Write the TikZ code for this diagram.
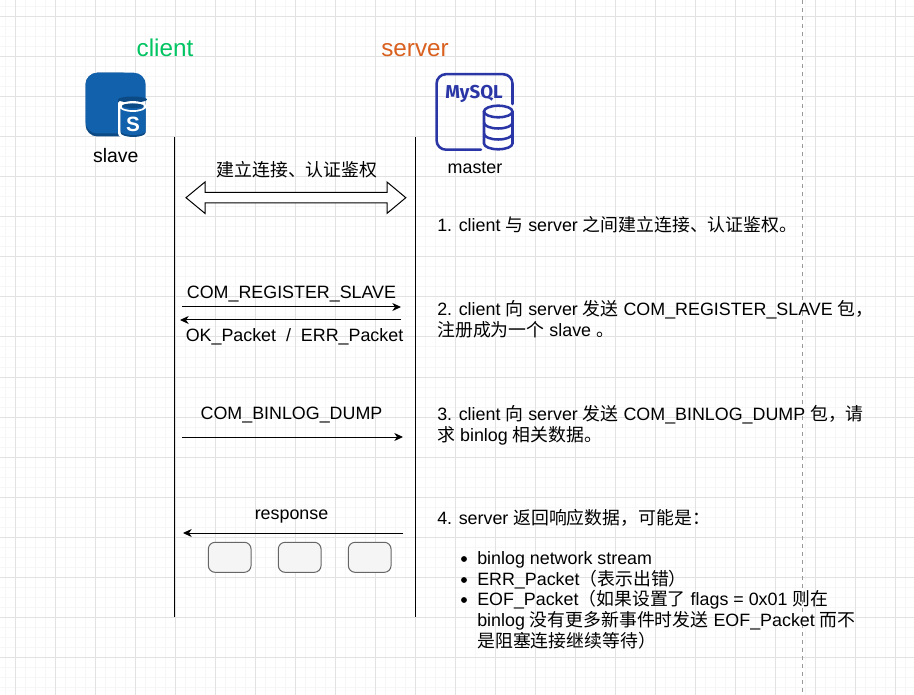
\documentclass[tikz,border=0pt]{standalone}
\usepackage{fontspec}
\setmainfont{Liberation Sans}
\newfontfamily\cjk{Noto Sans CJK SC}
\newfontfamily\iconfont{Fira Sans}
\usetikzlibrary{arrows.meta}
\newcommand{\C}[1]{{\cjk #1}}
\definecolor{gridminor}{HTML}{F6F6F6}
\definecolor{gridmajor}{HTML}{E2E2E2}
\definecolor{clientc}{HTML}{00C462}
\definecolor{serverc}{HTML}{D9601F}
\definecolor{slaveblue}{HTML}{1261AC}
\definecolor{slavedark}{HTML}{0C4A85}
\definecolor{mysqlc}{HTML}{2B36A6}
\tikzset{
  x=0.75pt,y=-0.75pt,
  lbl/.style={font=\fontsize{13.4}{16}\selectfont,inner sep=0pt,text=black},
  txt/.style={lbl,anchor=base west},
  lifeline/.style={draw=black,line width=0.75pt},
  msg/.style={draw=black,line width=0.75pt,-{Stealth[length=6.5pt,width=6pt,inset=2pt]}},
  pkt/.style={draw=black!60,fill=black!4,rounded corners=5pt,line width=0.75pt,minimum width=32pt,minimum height=22.5pt,inner sep=0pt},
  bulletdot/.style={circle,fill=black,inner sep=0pt,minimum size=4.4pt},
}
\begin{document}
\begin{tikzpicture}
\useasboundingbox (0,0) rectangle (914,695);
\fill[white] (0,0) rectangle (914,695);
% grid
\foreach \i in {0,...,90} \draw[gridminor,line width=0.75pt] ({5.7+10*\i},0) -- ({5.7+10*\i},695);
\foreach \i in {0,...,68} \draw[gridminor,line width=0.75pt] (0,{7+10*\i}) -- (914,{7+10*\i});
\foreach \i in {0,...,22} \draw[gridmajor,line width=0.75pt] ({15.7+40*\i},0) -- ({15.7+40*\i},695);
\foreach \i in {0,...,16} \draw[gridmajor,line width=0.75pt] (0,{17+40*\i}) -- (914,{17+40*\i});
\draw[black!40,line width=0.75pt,dash pattern=on 3pt off 3pt] (802.3,0) -- (802.3,695);
% titles
\node[lbl,font=\fontsize{18.2}{20}\selectfont,text=clientc,anchor=base] (clientT) at (165,56.5) {client};
\node[lbl,font=\fontsize{18.2}{20}\selectfont,text=serverc,anchor=base] (serverT) at (415,56.5) {server};
% slave icon
\fill[slavedark,rounded corners=9pt] (85.5,72.7) rectangle (135,136.5);
\fill[slaveblue,rounded corners=9pt] (85.5,72.7) rectangle (145.7,133.5);
\fill[slavedark] (118,100) rectangle (145.7,106);
\fill[white] (118,107) -- (118,133) arc[start angle=180,end angle=90,x radius=3,y radius=4] -- (121.5,137) -- (145.7,137) -- (145.7,100) -- (121,100) -- (118,103) -- cycle;
\fill[slavedark] (120.5,108) -- (120.5,132.5) arc[start angle=180,end angle=0,x radius=12.6,y radius=4.5] -- (145.7,108) -- cycle;
\fill[slaveblue] (120.5,108) -- (120.5,131) arc[start angle=180,end angle=0,x radius=12.6,y radius=4] -- (145.7,108) -- cycle;
\fill[slavedark] (132.5,99.5) ellipse[x radius=14.5,y radius=3];
\fill[white] (132.8,106.5) ellipse[x radius=13.6,y radius=5.4];
\fill[slaveblue] (132.8,106.8) ellipse[x radius=11,y radius=3.2];
\fill[slavedark] (132.8,105.8) ellipse[x radius=10.8,y radius=2.3];
\node[lbl,font=\bfseries\fontsize{15.5}{15}\selectfont,text=white,anchor=base] (sIcon) at (133,132) {S};
\node[lbl,font=\fontsize{14.6}{16}\selectfont,anchor=base] (slaveL) at (115.8,162.5) {slave};
% mysql icon
\draw[mysqlc,line width=1.9pt,line cap=round,rounded corners=7pt] (512.5,104) -- (512.5,74.2) -- (436.6,74.2) -- (436.6,149.7) -- (481,149.7);
\node[lbl,font=\iconfont\bfseries\fontsize{14}{15}\selectfont,text=mysqlc,anchor=base] (mysqlT) at (474,98.5) {MySQL};
\draw[mysqlc,line width=1.9pt,fill=white] (484,111.5) -- (484,143.5) arc[start angle=180,end angle=0,x radius=14.25,y radius=5.8] -- (512.5,111.5);
\draw[mysqlc,line width=1.9pt] (498.25,111.5) ellipse[x radius=14.25,y radius=5.8];
\draw[mysqlc,line width=1.9pt] (484,122.7) arc[start angle=180,end angle=0,x radius=14.25,y radius=5.8];
\draw[mysqlc,line width=1.9pt] (484,133.7) arc[start angle=180,end angle=0,x radius=14.25,y radius=5.8];
\node[lbl,anchor=base] (masterL) at (475,173.5) {master};
% lifelines
\coordinate (ctop) at (174.7,137);
\coordinate (cbot) at (174.7,617);
\coordinate (stop) at (415.5,137);
\coordinate (sbot) at (415.5,617);
\draw[lifeline] (ctop) -- (cbot);
\draw[lifeline] (stop) -- (sbot);
% double arrow
\draw[black,fill=white,line width=0.75pt,line join=miter]
  (186,197.7) -- (205,182) -- (205,192.5) -- (387,192.5) -- (387,182) -- (405.8,197.7) -- (387,213.4) -- (387,203) -- (205,203) -- (205,213.4) -- cycle;
\node[lbl,anchor=base] (authL) at (297,176.5) {\C{建立连接、认证鉴权}};
% messages
\coordinate (m1a) at (182,307); \coordinate (m1b) at (401,307);
\coordinate (m2a) at (401,320); \coordinate (m2b) at (180,320);
\coordinate (m3a) at (182,437); \coordinate (m3b) at (403,437);
\coordinate (m4a) at (403,533); \coordinate (m4b) at (183,533);
\draw[msg] (m1a) -- (m1b);
\draw[msg] (m2a) -- (m2b);
\draw[msg] (m3a) -- (m3b);
\draw[msg] (m4a) -- (m4b);
\node[lbl,anchor=base] (m1L) at (291.5,298.7) {COM\_REGISTER\_SLAVE};
\node[lbl,anchor=base] (m2L) at (294.5,342) {OK\_Packet~~/~~ERR\_Packet};
\node[lbl,anchor=base] (m3L) at (291.5,419) {COM\_BINLOG\_DUMP};
\node[lbl,anchor=base] (m4L) at (291.5,519) {response};
% packets
\node[pkt] (p1) at (229.7,557.3) {};
\node[pkt] (p2) at (299.7,557.3) {};
\node[pkt] (p3) at (369.7,557.3) {};
% description
\node[txt] (t1) at (437,231.7) {1. client \C{与} server \C{之间建立连接、认证鉴权。}};
\node[txt] (t2) at (437,315.7) {2. client \C{向} server \C{发送} COM\_REGISTER\_SLAVE \C{包，}};
\node[txt] (t2b) at (437,336) {\C{注册成为一个} slave \C{。}};
\node[txt] (t3) at (437,420) {3. client \C{向} server \C{发送} COM\_BINLOG\_DUMP \C{包，请}};
\node[txt] (t3b) at (437,441) {\C{求} binlog \C{相关数据。}};
\node[txt] (t4) at (437,524.7) {4. server \C{返回响应数据，可能是：}};
\node[bulletdot] (b1) at (464,559) {};
\node[bulletdot] (b2) at (464,580) {};
\node[bulletdot] (b3) at (464,600) {};
\node[txt] (l1) at (477,564) {binlog network stream};
\node[txt] (l2) at (477,585) {ERR\_Packet\C{（表示出错）}};
\node[txt] (l3) at (477,605) {EOF\_Packet\C{（如果设置了} flags = 0x01 \C{则在}};
\node[txt] (l3b) at (477,626) {binlog \C{没有更多新事件时发送} EOF\_Packet \C{而不}};
\node[txt] (l3c) at (477,647) {\C{是阻塞连接继续等待）}};
\end{tikzpicture}
\end{document}
